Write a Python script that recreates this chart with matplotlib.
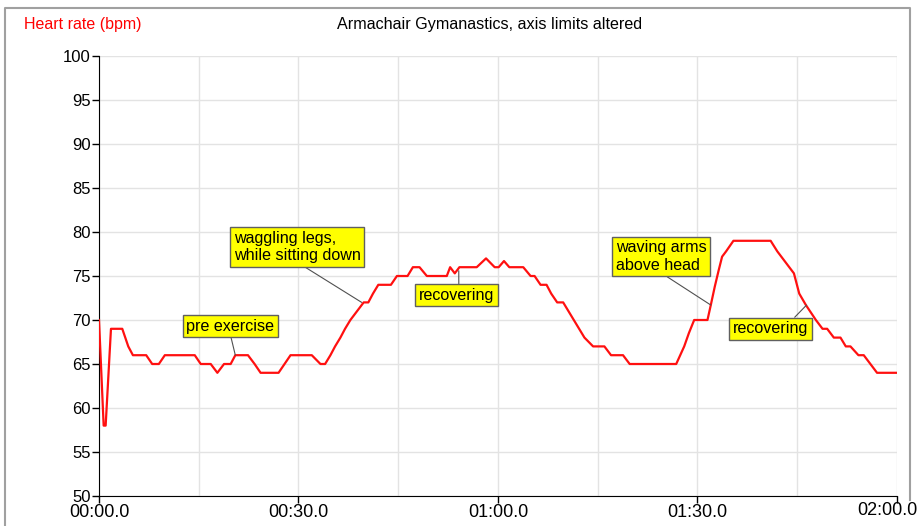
import numpy as np
import matplotlib
matplotlib.use("Agg")
import matplotlib.pyplot as plt
import matplotlib.ticker as ticker
from matplotlib.lines import Line2D

plt.rcParams['font.family'] = ['Liberation Sans', 'DejaVu Sans']

# heart rate trace, seconds from start vs bpm
secs = [0, 0.7, 1.0, 1.8, 3.5, 4.4, 5.1, 7.1, 8.0, 9.0, 9.9, 14.4, 15.3, 16.8,
        17.8, 18.8, 19.8, 20.5, 22.4, 23.4, 24.3, 27.0, 27.9, 28.8, 32.0, 33.3,
        34.0, 34.8, 35.5, 36.3, 37.0, 37.8, 38.8, 39.8, 40.5, 41.2, 42.0, 43.9,
        44.8, 46.4, 47.2, 48.2, 49.3, 52.3, 52.8, 53.5, 54.2, 56.8, 58.2, 59.5,
        60.1, 60.9, 61.7, 63.8, 64.9, 65.5, 66.4, 67.3, 68.0, 68.9, 69.8, 70.6,
        71.4, 72.2, 73.0, 74.3, 76.0, 77.0, 78.8, 79.8, 86.8, 87.4, 88.0, 88.7,
        89.5, 91.5, 92.0, 92.6, 93.2, 93.7, 94.3, 95.4, 101.0, 102.0, 103.0,
        104.5, 105.3, 106.3, 107.8, 108.8, 109.5, 110.5, 111.5, 112.3, 113.0,
        114.2, 115.0, 117.0, 120.0]
bpm = [70, 58, 58, 69, 69, 67, 66, 66, 65, 65, 66, 66, 65, 65,
       64, 65, 65, 66, 66, 65, 64, 64, 65, 66, 66, 65,
       65, 66, 67, 68, 69, 70, 71, 72, 72, 73, 74, 74,
       75, 75, 76, 76, 75, 75, 76, 75.3, 76, 76, 77, 76,
       76, 76.7, 76, 76, 75, 75, 74, 74, 73, 72, 72, 71,
       70, 69, 68, 67, 67, 66, 66, 65, 65, 66, 67, 68.5,
       70, 70, 71.7, 73.8, 75.7, 77.2, 77.8, 79, 79, 77.8, 76.8,
       75.3, 73, 71.7, 70, 69, 69, 68, 68, 67, 67,
       66, 66, 64, 64]

# annotations: text, text position (left, centre), point on trace, connector start
notes = ["pre exercise", "waggling legs,\nwhile sitting down", "recovering",
         "waving arms\nabove head", "recovering"]
note_xy = [(13.1, 69.3), (20.3, 78.3), (48.1, 72.8), (77.7, 77.2), (95.3, 69.0)]
note_pt = [(20.5, 66), (39.5, 72), (54.1, 75.6), (92.0, 71.7), (106.4, 71.7)]
note_rel = [(0.5, 0), (0.51, 0), (0.53, 1), (0.5, 0), (0.77, 1)]

fig = plt.figure(figsize=(9.2, 5.26), dpi=100)
ax = fig.add_axes([99/920, 1 - 496/526, (897 - 99)/920, (496 - 56)/526])

ax.plot(secs, bpm, color='#ff1010', lw=1.6, zorder=3)

for txt, xy, pt, rel in zip(notes, note_xy, note_pt, note_rel):
    ax.annotate(txt, xy=pt, xytext=xy, ha='left', va='center', fontsize=11.6,
                bbox=dict(boxstyle='square,pad=0.22', fc='#ffff00', ec='#606060', lw=1),
                arrowprops=dict(arrowstyle='-', color='#505050', lw=0.8,
                                relpos=rel, shrinkA=0, shrinkB=0),
                zorder=4)

def fmt(v, p):
    if v >= 119.9:
        return ""  # drawn separately so it fits inside the figure
    return "%02d:%04.1f" % (int(v // 60), v % 60)

ax.set_xlim(0, 120)
ax.set_ylim(50, 100)
ax.xaxis.set_major_locator(ticker.MultipleLocator(30))
ax.xaxis.set_minor_locator(ticker.MultipleLocator(15))
ax.yaxis.set_major_locator(ticker.MultipleLocator(5))
ax.xaxis.set_major_formatter(ticker.FuncFormatter(fmt))
ax.grid(which='both', color='#e3e3e3', lw=1)
ax.set_axisbelow(True)
for s in ['top', 'right']:
    ax.spines[s].set_visible(False)
ax.tick_params(which='major', labelsize=12, length=5, width=1, pad=1)
ax.tick_params(axis='x', which='major', labelsize=13)
ax.tick_params(which='minor', length=0)

# outer frame of the chart window (left, top, right)
fx0, fx1, fy = 5/920, 910/920, 1 - 8/526
fig.add_artist(Line2D([fx0, fx0, fx1, fx1], [0, fy, fy, 1 - 500/526],
                      transform=fig.transFigure, color='#a0a0a0', lw=1.5))

fig.text(918/920, 1 - 502/526, "02:00.0", fontsize=13, ha='right', va='top')

fig.text(24/920, 1 - 25/526, "Heart rate (bpm)", color='red', fontsize=11.5, va='center', ha='left')
fig.text(490/920, 1 - 25/526, "Armachair Gymanastics, axis limits altered", fontsize=11.6,
         va='center', ha='center')

fig.savefig("out.png", dpi=100)
